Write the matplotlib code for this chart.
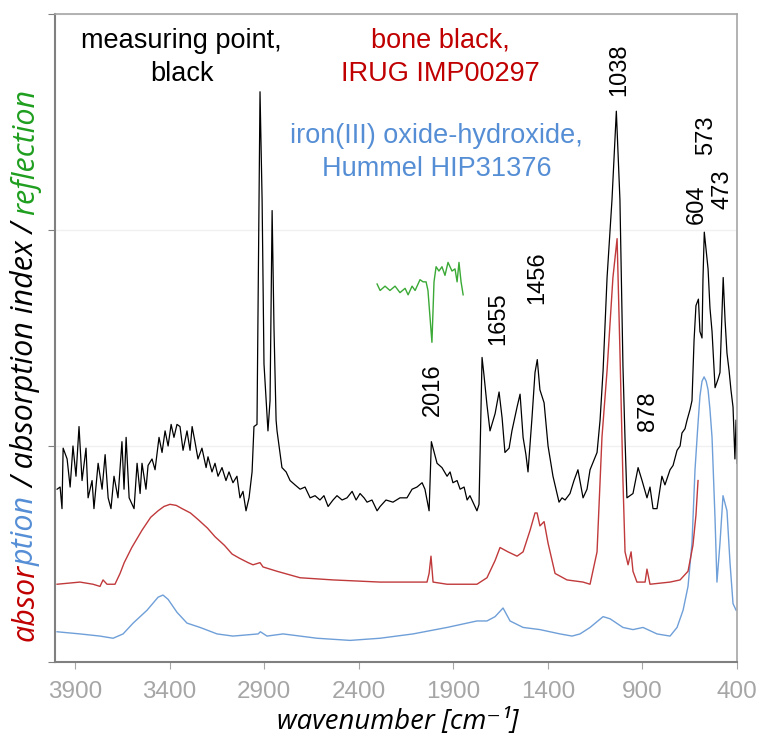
import matplotlib
matplotlib.use("Agg")
import matplotlib.pyplot as plt

# spectra: wavenumber [cm-1] / intensity (axis units 0..3)
black_wn = [3995, 3979, 3969, 3963, 3942, 3926, 3911, 3895, 3879, 3863,
            3842, 3831, 3810, 3800, 3778, 3757, 3741, 3725, 3710, 3694,
            3673, 3652, 3641, 3630, 3614, 3588, 3572, 3556, 3546, 3525,
            3514, 3493, 3477, 3456, 3440, 3424, 3408, 3392, 3377, 3361,
            3345, 3329, 3308, 3292, 3281, 3266, 3250, 3229, 3207, 3197,
            3176, 3160, 3144, 3123, 3102, 3086, 3065, 3044, 3028, 3012,
            2996, 2980, 2964, 2954,
            2938, 2927, 2922, 2911, 2901, 2880, 2869, 2858, 2848, 2837,
            2832, 2806, 2784, 2763, 2737, 2710, 2684, 2657, 2631, 2605,
            2584, 2562, 2536, 2515, 2488, 2462, 2435, 2414, 2393, 2372,
            2356, 2330, 2303, 2287, 2256, 2219, 2182, 2145, 2118, 2092,
            2065, 2050, 2028, 2016, 1986, 1960, 1933, 1917, 1902, 1880,
            1864, 1843, 1827, 1812, 1796, 1775, 1764, 1748, 1738, 1722,
            1706, 1679, 1658, 1642, 1627, 1605, 1590, 1563, 1547, 1531,
            1516, 1505, 1484, 1468, 1456, 1442, 1420, 1399, 1373, 1341,
            1325, 1309, 1283, 1262, 1241, 1214, 1193, 1177, 1140, 1124,
            1108, 1087, 1061, 1038, 1019, 1003, 992, 982, 950, 923,
            902, 876, 860, 844, 823, 797, 781, 754, 738, 717,
            701, 691, 675, 664, 648, 638, 627, 617, 604, 596,
            585, 580, 573, 553, 543, 532, 516, 500, 490, 473,
            463, 453, 442, 432, 421, 411, 405, 400]
black_y = [0.80, 0.81, 0.71, 0.99, 0.94, 0.81, 1.00, 0.86, 1.09, 0.84,
           0.99, 0.76, 0.84, 0.71, 0.92, 0.80, 0.96, 0.76, 0.71, 0.86,
           0.76, 1.02, 0.80, 1.04, 0.76, 0.71, 0.92, 0.78, 0.92, 0.80,
           0.91, 0.94, 0.89, 1.04, 0.97, 1.07, 1.00, 1.10, 1.04, 1.10,
           1.09, 0.98, 1.07, 0.98, 1.09, 1.02, 0.94, 0.99, 0.90, 0.95,
           0.88, 0.92, 0.86, 0.90, 0.84, 0.88, 0.83, 0.86, 0.76, 0.79,
           0.70, 0.76, 0.88, 1.09,
           1.10, 2.14, 2.64, 2.14, 1.38, 1.07, 1.21, 2.09, 1.54, 1.12,
           1.07, 0.90, 0.88, 0.84, 0.82, 0.80, 0.81, 0.76, 0.77, 0.75,
           0.77, 0.72, 0.75, 0.77, 0.75, 0.76, 0.79, 0.75, 0.78, 0.76,
           0.74, 0.75, 0.70, 0.72, 0.75, 0.74, 0.76, 0.76, 0.80, 0.81,
           0.83, 0.80, 0.70, 1.02, 0.92, 0.90, 0.86, 0.88, 0.83, 0.84,
           0.80, 0.81, 0.75, 0.77, 0.74, 0.70, 0.73, 1.41, 1.33, 1.19,
           1.07, 1.15, 1.25, 1.13, 0.97, 0.99, 1.07, 1.18, 1.24, 1.04,
           0.96, 0.88, 1.13, 1.34, 1.40, 1.26, 1.20, 1.00, 0.86, 0.74,
           0.76, 0.75, 0.78, 0.84, 0.89, 0.76, 0.80, 0.89, 0.97, 1.12,
           1.35, 1.78, 2.14, 2.55, 2.14, 1.37, 1.03, 0.76, 0.78, 0.90,
           0.84, 0.76, 0.81, 0.71, 0.71, 0.86, 0.82, 0.89, 0.91, 0.98,
           1.00, 1.06, 1.08, 1.12, 1.17, 1.21, 1.49, 1.65, 1.68, 1.53,
           1.50, 1.77, 1.99, 1.82, 1.64, 1.53, 1.27, 1.31, 1.34, 1.78,
           1.58, 1.43, 1.35, 1.26, 1.18, 0.94, 1.12, 0.92]

red_wn = [3995, 3874, 3805, 3768, 3752, 3731, 3689, 3662, 3640, 3600,
          3546, 3500, 3461, 3430, 3398, 3365, 3334, 3290, 3250, 3200,
          3160, 3110, 3070, 3030, 2985, 2959, 2922, 2906, 2832, 2710,
          2536, 2287, 2208, 2039, 2028, 2018, 2007, 1933, 1775, 1722,
          1679, 1653, 1611, 1563, 1531, 1494, 1468, 1457, 1442, 1420,
          1399, 1362, 1299, 1214, 1177, 1140, 1114, 1087, 1056, 1034,
          1019, 1003, 992, 976, 960, 950, 929, 886, 876, 860,
          754, 701, 659, 633, 617, 606]
red_y = [0.36, 0.37, 0.36, 0.35, 0.38, 0.36, 0.36, 0.41, 0.46, 0.53,
         0.61, 0.67, 0.70, 0.72, 0.73, 0.725, 0.71, 0.69, 0.66, 0.62,
         0.58, 0.54, 0.50, 0.48, 0.46, 0.45, 0.46, 0.44, 0.42, 0.39,
         0.38, 0.37, 0.37, 0.37, 0.41, 0.49, 0.37, 0.36, 0.36, 0.39,
         0.47, 0.53, 0.51, 0.49, 0.51, 0.61, 0.69, 0.69, 0.63, 0.65,
         0.55, 0.41, 0.38, 0.37, 0.36, 0.51, 1.04, 1.35, 1.78, 1.96,
         1.44, 0.84, 0.51, 0.45, 0.51, 0.42, 0.37, 0.37, 0.43, 0.36,
         0.37, 0.38, 0.42, 0.54, 0.68, 0.84]

blue_wn = [3995, 3874, 3768, 3699, 3646, 3593, 3519, 3461, 3435, 3408,
           3361, 3308, 3239, 3149, 3065, 2932, 2920, 2885, 2800, 2621,
           2446, 2287, 2113, 1933, 1775, 1722, 1679, 1637, 1600, 1531,
           1442, 1336, 1272, 1230, 1177, 1108, 1071, 1003, 950, 897,
           823, 754, 717, 685, 659, 638, 622, 608, 596, 585,
           574, 563, 553, 543, 532, 516, 506, 490, 474, 453,
           437, 421, 405]
blue_y = [0.14, 0.13, 0.12, 0.11, 0.13, 0.18, 0.24, 0.30, 0.31, 0.29,
          0.23, 0.18, 0.16, 0.13, 0.12, 0.13, 0.14, 0.12, 0.13, 0.11,
          0.10, 0.11, 0.13, 0.16, 0.19, 0.19, 0.21, 0.25, 0.19, 0.16,
          0.15, 0.13, 0.12, 0.13, 0.16, 0.21, 0.20, 0.16, 0.15, 0.16,
          0.13, 0.12, 0.16, 0.24, 0.35, 0.55, 0.89, 1.08, 1.23, 1.30,
          1.32, 1.30, 1.26, 1.17, 1.04, 0.66, 0.37, 0.55, 0.77, 0.70,
          0.46, 0.27, 0.24]

green_wn = [2303, 2287, 2261, 2235, 2208, 2182, 2155, 2139, 2118, 2102, 2076, 2060, 2044, 2034,
            2013, 2002, 1991, 1976, 1960, 1944, 1928, 1907, 1891, 1880, 1870, 1859, 1848]
green_y = [1.75, 1.72, 1.74, 1.72, 1.74, 1.71, 1.73, 1.70, 1.74, 1.72, 1.77, 1.76, 1.76, 1.72,
           1.48, 1.76, 1.83, 1.81, 1.83, 1.79, 1.85, 1.81, 1.82, 1.76, 1.85, 1.76, 1.70]

peak_labels = ["1038", "573", "604", "473", "1456", "1655", "2016", "878"]
peak_pos = [(1024, 2.74), (564, 2.44), (611, 2.12), (479, 2.19),
            (1457, 1.78), (1664, 1.59), (2007, 1.26), (871, 1.16)]

xticks = [3900, 3400, 2900, 2400, 1900, 1400, 900, 400]

RED = "#c00000"
BLUE = "#558ed5"
GREEN = "#1f9e1f"

plt.rcParams["font.family"] = ["Liberation Sans", "DejaVu Sans"]

fig = plt.figure(figsize=(7.6, 7.38), dpi=100)
ax = fig.add_axes([55 / 760, 1 - 662 / 738, 682 / 760, 648 / 738])

ax.plot(blue_wn, blue_y, color="#6f9fd8", lw=1.0)
ax.plot(red_wn, red_y, color="#c0393b", lw=1.0)
ax.plot(black_wn, black_y, color="black", lw=0.9)
ax.plot(green_wn, green_y, color="#3aa935", lw=1.0)

ax.set_xlim(4006, 400)
ax.set_ylim(0, 3)
ax.set_xticks(xticks)
ax.set_xticklabels([str(t) for t in xticks])
ax.set_yticks([0, 1, 2, 3])
ax.set_yticklabels([])
ax.tick_params(axis="x", colors="#a6a6a6", labelsize=17.5, length=5, pad=9)
ax.tick_params(axis="y", colors="#808080", length=5)
ax.grid(axis="y", color="#f0f0f0", lw=1)
ax.set_axisbelow(True)
for side in ["left", "bottom"]:
    ax.spines[side].set_color("#808080")
    ax.spines[side].set_linewidth(1.5)
for side in ["top", "right"]:
    ax.spines[side].set_color("#a6a6a6")
    ax.spines[side].set_linewidth(1.2)

# sample names
name_kw = dict(transform=ax.transAxes, ha="center", va="center", fontsize=19.5, linespacing=1.35)
ax.text(0.186, 0.933, "measuring point,\nblack", color="black", **name_kw)
ax.text(0.565, 0.933, "bone black,\nIRUG IMP00297", color=RED, **name_kw)
ax.text(0.560, 0.786, "iron(III) oxide-hydroxide,\nHummel HIP31376", color=BLUE, **name_kw)

for lab, (px, py) in zip(peak_labels, peak_pos):
    ax.text(px, py, lab, rotation=90, ha="center", va="center", fontsize=17)

# axis labels, sized to the reference lengths
lab_font = ["Open Sans", "DejaVu Sans"]
renderer = fig.canvas.get_renderer()


def text_len(s, size):
    t = fig.text(0, 0, s, fontsize=size, style="italic", family=lab_font)
    w = t.get_window_extent(renderer).width
    t.remove()
    return w


xlabel = "wavenumber [cm\u207b\u00b9]"
xsize = 20 * 241 / text_len(xlabel, 20)
fig.text(398 / 760, 1 - 729 / 738, xlabel, ha="center", va="baseline",
         fontsize=xsize, style="italic", family=lab_font)

ysize = 20 * 555 / text_len("absorption / absorption index / reflection", 20)
gap = text_len("a a", ysize) - text_len("aa", ysize)
parts = [("absor", RED, 0), ("ption", BLUE, -2), ("/ absorption index /", "black", gap),
         ("reflection", GREEN, gap)]
ypix = 97
for s, c, g in parts:
    ypix += g
    t = fig.text(34 / 760, ypix / 738, s, rotation=90, rotation_mode="anchor", ha="left",
                 va="baseline", fontsize=ysize, style="italic", family=lab_font, color=c)
    ypix += text_len(s, ysize)

fig.savefig("out.png", dpi=100)
